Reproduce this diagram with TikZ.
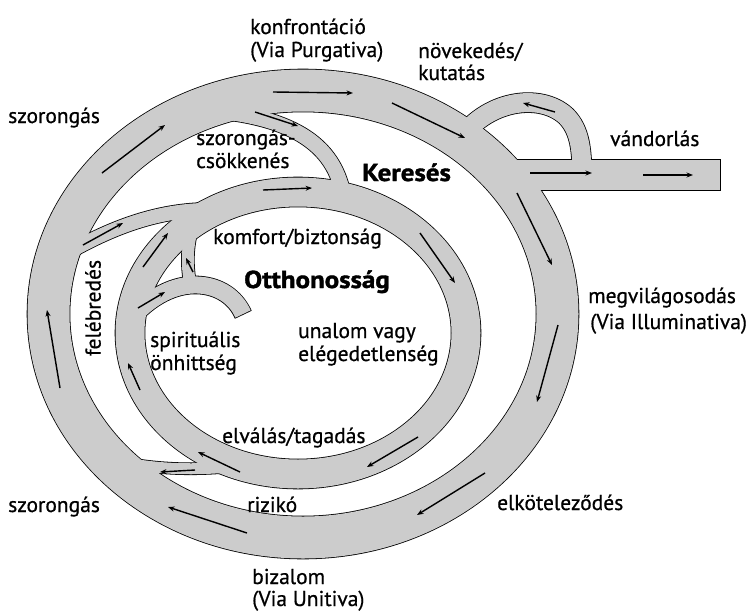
\documentclass[tikz,border=0pt]{standalone}
\usepackage{fontspec}
\setmainfont{PT Sans}[FakeBold=0.7]
\newfontfamily\headfont{PT Sans}[FakeStretch=1.1,FakeBold=1.4]
\usetikzlibrary{arrows.meta}
\definecolor{road}{RGB}{204,204,204}

% every road twice: #1 extra width, #2 colour, #3 end style
\newcommand\roadnet[3]{%
\begin{scope}[draw=#2,tip/.style={#3}]
  \draw[line width=42pt+#1] (303,314) ellipse [x radius=254.5,y radius=223.5];
  \draw[line width=29pt+#1] (298,333) ellipse [x radius=168,y radius=141];
  \draw[line width=15pt+#1] (205,110) .. controls (285,116) and (336,140) .. (344,200);
  \draw[line width=14pt+#1] (62,256) .. controls (110,228) and (160,208) .. (218,210);
  \draw[line width=17pt+#1,tip] (128,322) .. controls (150,296) and (175,284) .. (198,285)
    .. controls (220,286) and (236,298) .. (243,314);
  \draw[line width=12pt+#1] (191,288) .. controls (186,265) and (186,240) .. (198,212);
  \draw[line width=11pt+#1] (228,467) .. controls (195,470) and (155,470) .. (112,460);
  \draw[line width=19pt+#1] (458,142) .. controls (485,100) and (540,92) .. (566,116)
    .. controls (580,130) and (582,150) .. (582,178);
  \draw[line width=30pt+#1,tip] (500,175) -- (720,175);
\end{scope}}

\begin{document}
\begin{tikzpicture}[x=1pt,y=-1pt,
  lbl/.style={inner sep=0pt,anchor=base west,font=\fontsize{21.5}{26}\selectfont},
  big/.style={lbl,font=\fontsize{24.5}{29}\headfont\bfseries},
  flow/.style={line width=1.4pt,-{Stealth[length=6.5pt,width=5pt]}}]
\useasboundingbox (0,0) rectangle (749,613);

\roadnet{1.6pt}{black}{shorten >=-0.8pt}
\roadnet{0pt}{road}{}

% direction of travel
\foreach \xa/\ya/\xb/\yb in {102/173/165/125, 273/92/353/93, 392/103/465/138,
  517/193/552/265, 558/325/537/402, 485/473/417/515, 247/533/168/507, 60/388/47/310,
  263/190/312/188, 420/233/455/283, 418/437/367/467, 240/472/198/452,
  140/390/128/363, 143/267/168/233, 255/112/298/126, 83/245/123/223,
  138/308/165/292, 193/272/186/258, 195/470/160/472, 555/112/523/103,
  530/173/592/173, 643/175/693/175}
  \draw[flow] (\xa,\ya) -- (\xb,\yb);

\node[lbl] (konf) at (250,34) {konfrontáció};
\node[lbl] (purg) at (250,57) {(Via Purgativa)};
\node[lbl] (nov) at (418,58) {növekedés/};
\node[lbl] (kut) at (418,80) {kutatás};
\node[lbl] (szorA) at (8,123) {szorongás};
\node[lbl] (szcsA) at (196,145) {szorongás-};
\node[lbl] (szcsB) at (196,168) {csökkenés};
\node[big] (keres) at (362,181) {Keresés};
\node[lbl] (vand) at (610,146) {vándorlás};
\node[lbl] (komf) at (213,244) {komfort/biztonság};
\node[big] (otth) at (244,288) {Otthonosság};
\node[lbl,anchor=center,rotate=90] (feleb) at (93,308) {felébredés};
\node[lbl] (spir) at (150,347) {spirituális};
\node[lbl] (onh) at (150,370) {önhittség};
\node[lbl] (unal) at (298,338) {unalom vagy};
\node[lbl] (eleg) at (298,361) {elégedetlenség};
\node[lbl] (megv) at (588,303) {megvilágosodás};
\node[lbl] (illu) at (590,329) {(Via Illuminativa)};
\node[lbl] (elval) at (222,443) {elválás/tagadás};
\node[lbl] (riz) at (247,512) {rizikó};
\node[lbl] (szorB) at (8,512) {szorongás};
\node[lbl] (elkot) at (497,510) {elköteleződés};
\node[lbl] (biz) at (252,584) {bizalom};
\node[lbl] (unit) at (252,606) {(Via Unitiva)};
\end{tikzpicture}
\end{document}
